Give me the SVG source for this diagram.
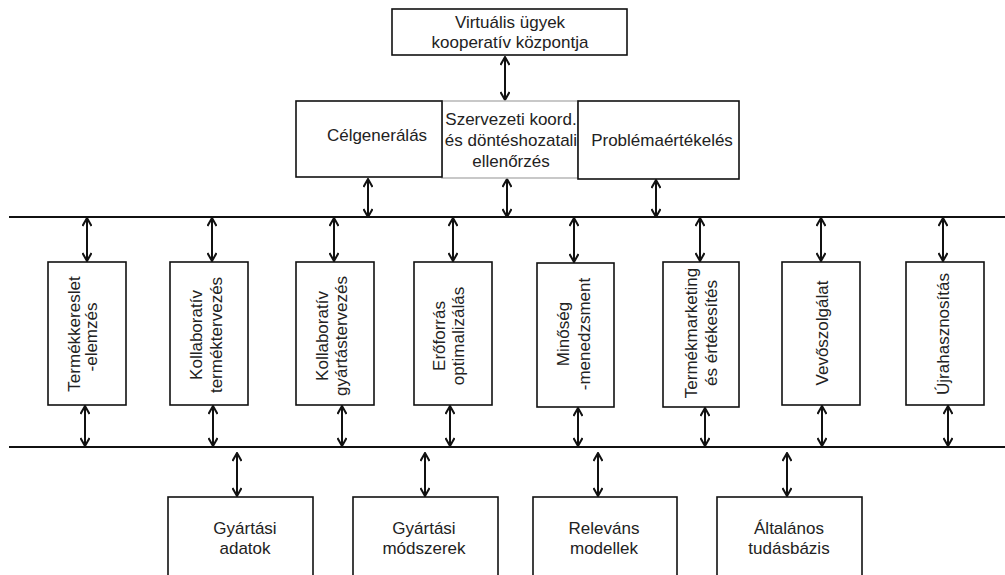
<svg xmlns="http://www.w3.org/2000/svg" width="1005" height="575" viewBox="0 0 1005 575">
<defs>
<marker id="ah" viewBox="0 0 10 10" refX="9" refY="5" markerWidth="10" markerHeight="10" markerUnits="userSpaceOnUse" orient="auto-start-reverse">
<path d="M1,0.5 L9,5 L1,9.5" fill="none" stroke="#111" stroke-width="2"/>
</marker>
<style>
.box{fill:#fff;stroke:#111;stroke-width:1.6}
.gbox{fill:#fff;stroke:#bbb;stroke-width:1.6}
.t{font-family:"Liberation Sans",Arial,sans-serif;font-size:17px;fill:#222;text-anchor:middle}
.bus{stroke:#111;stroke-width:2;fill:none}
.ar{stroke:#111;stroke-width:2;fill:none;marker-start:url(#ah);marker-end:url(#ah)}
</style>
</defs>
<rect width="1005" height="575" fill="#fff"/>
<g id="connectors">
<line class="bus" x1="9" y1="217" x2="1005" y2="217"/>
<line class="bus" x1="9" y1="447" x2="1005" y2="447"/>
<line class="ar" x1="505" y1="57" x2="505" y2="100"/>
<line class="ar" x1="368" y1="179" x2="368" y2="217"/>
<line class="ar" x1="507" y1="179" x2="507" y2="217"/>
<line class="ar" x1="656" y1="180" x2="656" y2="217"/>
<line class="ar" x1="87" y1="218" x2="87" y2="261"/>
<line class="ar" x1="212" y1="218" x2="212" y2="261"/>
<line class="ar" x1="334" y1="218" x2="334" y2="261"/>
<line class="ar" x1="453" y1="218" x2="453" y2="261"/>
<line class="ar" x1="574" y1="218" x2="574" y2="262"/>
<line class="ar" x1="700" y1="218" x2="700" y2="261"/>
<line class="ar" x1="821" y1="218" x2="821" y2="261"/>
<line class="ar" x1="943" y1="218" x2="943" y2="261"/>
<line class="ar" x1="85" y1="406" x2="85" y2="446"/>
<line class="ar" x1="213" y1="406" x2="213" y2="446"/>
<line class="ar" x1="342" y1="406" x2="342" y2="446"/>
<line class="ar" x1="450" y1="406" x2="450" y2="446"/>
<line class="ar" x1="578" y1="408" x2="578" y2="446"/>
<line class="ar" x1="705" y1="408" x2="705" y2="446"/>
<line class="ar" x1="822" y1="406" x2="822" y2="446"/>
<line class="ar" x1="948" y1="406" x2="948" y2="446"/>
<line class="ar" x1="237" y1="453" x2="237" y2="496"/>
<line class="ar" x1="425" y1="453" x2="425" y2="496"/>
<line class="ar" x1="598" y1="453" x2="598" y2="496"/>
<line class="ar" x1="787" y1="453" x2="787" y2="496"/>
</g>
<g id="n-virtualis">
<rect class="box" x="392" y="9" width="235" height="46"/>
<text class="t" x="510" y="28">Virtuális ügyek</text>
<text class="t" x="510" y="48">kooperatív központja</text>
</g>
<g id="n-szervezeti">
<rect class="gbox" x="442" y="101" width="136" height="77"/>
<text class="t" x="511" y="125">Szervezeti koord.</text>
<text class="t" x="511" y="146">és döntéshozatali</text>
<text class="t" x="511" y="167">ellenőrzés</text>
</g>
<g id="n-celgeneralas">
<rect class="box" x="296" y="101" width="146" height="76"/>
<text class="t" x="377" y="141">Célgenerálás</text>
</g>
<g id="n-problema">
<rect class="box" x="578" y="101" width="161" height="78"/>
<text class="t" x="662" y="146">Problémaértékelés</text>
</g>
<g id="n-termekkereslet">
<rect class="box" x="48" y="262" width="78" height="143"/>
<text class="t" transform="translate(87,334) rotate(-90)"><tspan x="0" y="-7">Termékkereslet</tspan><tspan x="-3" y="10">-elemzés</tspan></text>
</g>
<g id="n-kolltermek">
<rect class="box" x="170" y="262" width="78" height="143"/>
<text class="t" transform="translate(209,335) rotate(-90)"><tspan x="0" y="-7">Kollaboratív</tspan><tspan x="0" y="13">terméktervezés</tspan></text>
</g>
<g id="n-kollgyartas">
<rect class="box" x="296" y="262" width="78" height="143"/>
<text class="t" transform="translate(335,336) rotate(-90)"><tspan x="0" y="-7">Kollaboratív</tspan><tspan x="0" y="12">gyártástervezés</tspan></text>
</g>
<g id="n-eroforras">
<rect class="box" x="414" y="262" width="78" height="143"/>
<text class="t" transform="translate(453,336) rotate(-90)"><tspan x="0" y="-8">Erőforrás</tspan><tspan x="0" y="11">optimalizálás</tspan></text>
</g>
<g id="n-minoseg">
<rect class="box" x="537" y="263" width="77" height="144"/>
<text class="t" transform="translate(575,334) rotate(-90)"><tspan x="0" y="-6">Minőség</tspan><tspan x="0" y="15">-menedzsment</tspan></text>
</g>
<g id="n-marketing">
<rect class="box" x="663" y="262" width="76" height="145"/>
<text class="t" transform="translate(701,333) rotate(-90)"><tspan x="0" y="-4">Termékmarketing</tspan><tspan x="0" y="16">és értékesítés</tspan></text>
</g>
<g id="n-vevo">
<rect class="box" x="782" y="262" width="78" height="143"/>
<text class="t" transform="translate(821,333) rotate(-90)"><tspan x="0" y="7">Vevőszolgálat</tspan></text>
</g>
<g id="n-ujra">
<rect class="box" x="906" y="262" width="78" height="143"/>
<text class="t" transform="translate(945,334) rotate(-90)"><tspan x="0" y="4">Újrahasznosítás</tspan></text>
</g>
<g id="n-gyadatok">
<rect class="box" x="168" y="497" width="145" height="85"/>
<text class="t" x="245" y="534">Gyártási</text>
<text class="t" x="245" y="554">adatok</text>
</g>
<g id="n-gymodszer">
<rect class="box" x="353" y="497" width="145" height="85"/>
<text class="t" x="424" y="534">Gyártási</text>
<text class="t" x="424" y="554">módszerek</text>
</g>
<g id="n-relevans">
<rect class="box" x="533" y="497" width="144" height="85"/>
<text class="t" x="604" y="534">Releváns</text>
<text class="t" x="604" y="554">modellek</text>
</g>
<g id="n-altalanos">
<rect class="box" x="717" y="497" width="145" height="85"/>
<text class="t" x="789" y="534">Általános</text>
<text class="t" x="789" y="554">tudásbázis</text>
</g>
</svg>
